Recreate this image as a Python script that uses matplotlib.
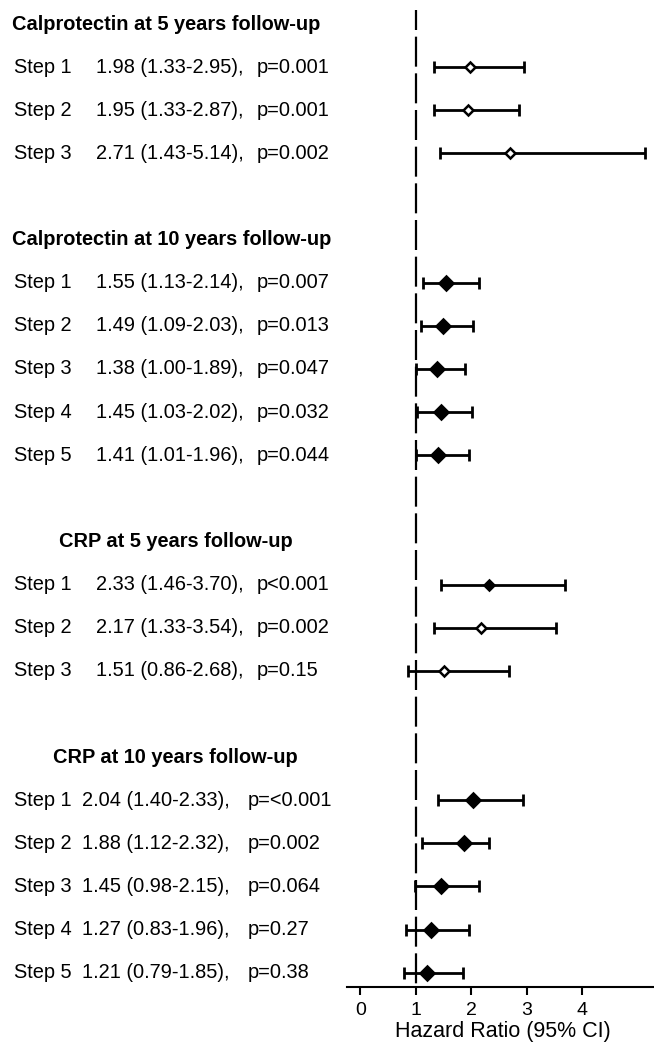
import matplotlib
matplotlib.use("Agg")
import matplotlib.pyplot as plt
import matplotlib.transforms as mtransforms

plt.rcParams['font.family'] = ['Liberation Sans', 'DejaVu Sans']
plt.rcParams['lines.scale_dashes'] = False

# ---------------- data ----------------
section_titles = ["Calprotectin at 5 years follow-up",
                  "Calprotectin at 10 years follow-up",
                  "CRP at 5 years follow-up",
                  "CRP at 10 years follow-up"]

cal5_steps = ["Step 1", "Step 2", "Step 3"]
cal5_hr = [1.98, 1.95, 2.71]
cal5_lo = [1.33, 1.33, 1.43]
cal5_hi = [2.95, 2.87, 5.14]
cal5_text = ["1.98 (1.33-2.95),", "1.95 (1.33-2.87),", "2.71 (1.43-5.14),"]
cal5_p = ["p=0.001", "p=0.001", "p=0.002"]

cal10_steps = ["Step 1", "Step 2", "Step 3", "Step 4", "Step 5"]
cal10_hr = [1.55, 1.49, 1.38, 1.45, 1.41]
cal10_lo = [1.13, 1.09, 1.00, 1.03, 1.01]
cal10_hi = [2.14, 2.03, 1.89, 2.02, 1.96]
cal10_text = ["1.55 (1.13-2.14),", "1.49 (1.09-2.03),", "1.38 (1.00-1.89),",
              "1.45 (1.03-2.02),", "1.41 (1.01-1.96),"]
cal10_p = ["p=0.007", "p=0.013", "p=0.047", "p=0.032", "p=0.044"]

crp5_steps = ["Step 1", "Step 2", "Step 3"]
crp5_hr = [2.33, 2.17, 1.51]
crp5_lo = [1.46, 1.33, 0.86]
crp5_hi = [3.70, 3.54, 2.68]
crp5_text = ["2.33 (1.46-3.70),", "2.17 (1.33-3.54),", "1.51 (0.86-2.68),"]
crp5_p = ["p<0.001", "p=0.002", "p=0.15"]

crp10_steps = ["Step 1", "Step 2", "Step 3", "Step 4", "Step 5"]
crp10_hr = [2.04, 1.88, 1.45, 1.27, 1.21]
crp10_lo = [1.40, 1.12, 0.98, 0.83, 0.79]
crp10_hi = [2.93, 2.32, 2.15, 1.96, 1.85]   # as drawn in the figure
crp10_text = ["2.04 (1.40-2.33),", "1.88 (1.12-2.32),", "1.45 (0.98-2.15),",
              "1.27 (0.83-1.96),", "1.21 (0.79-1.85),"]
crp10_p = ["p=<0.001", "p=0.002", "p=0.064", "p=0.27", "p=0.38"]

x_ticks = [0, 1, 2, 3, 4]
x_label = "Hazard Ratio (95% CI)"

# ---------------- styling / layout ----------------
W, H = 654, 1048
fig = plt.figure(figsize=(W / 100, H / 100), dpi=100)

ax_left_px, ax_bottom_px = 347, 987
ax = fig.add_axes([ax_left_px / W, (H - ax_bottom_px) / H, 1 - ax_left_px / W, ax_bottom_px / H])

row_px, row0_px = 43.12, 24.0
ax.set_ylim((ax_bottom_px - row0_px) / row_px, (0 - row0_px) / row_px)
x0_px, unit_px = 360.3, 55.4
ax.set_xlim((ax_left_px - x0_px) / unit_px, (W - x0_px) / unit_px)

sections = [
    dict(steps=cal5_steps, hr=cal5_hr, lo=cal5_lo, hi=cal5_hi, txt=cal5_text, p=cal5_p,
         title_x=12, val_x=96, p_x=257,
         ms=[4.6, 4.6, 4.6], mfc=['white', 'white', 'white']),
    dict(steps=cal10_steps, hr=cal10_hr, lo=cal10_lo, hi=cal10_hi, txt=cal10_text, p=cal10_p,
         title_x=12, val_x=96, p_x=257,
         ms=[7.0] * 5, mfc=['black'] * 5),
    dict(steps=crp5_steps, hr=crp5_hr, lo=crp5_lo, hi=crp5_hi, txt=crp5_text, p=crp5_p,
         title_x=59, val_x=96, p_x=257,
         ms=[5.6, 5.6, 5.6], mfc=['black', 'white', 'white']),
    dict(steps=crp10_steps, hr=crp10_hr, lo=crp10_lo, hi=crp10_hi, txt=crp10_text, p=crp10_p,
         title_x=53, val_x=82, p_x=248,
         ms=[7.0] * 5, mfc=['black'] * 5),
]

trans = mtransforms.blended_transform_factory(fig.transFigure, ax.transData)
fs = 14.4

row = 0
for title, sec in zip(section_titles, sections):
    fig.text(sec['title_x'] / W, row, title, transform=trans, fontsize=fs,
             fontweight='bold', ha='left', va='center')
    row += 1
    for i, step in enumerate(sec['steps']):
        y = row
        fig.text(14 / W, y, step, transform=trans, fontsize=fs, ha='left', va='center')
        fig.text(sec['val_x'] / W, y, sec['txt'][i], transform=trans, fontsize=fs,
                 ha='left', va='center')
        fig.text(sec['p_x'] / W, y, sec['p'][i], transform=trans, fontsize=fs,
                 ha='left', va='center')
        hr = sec['hr'][i]
        ax.errorbar([hr], [y], xerr=[[hr - sec['lo'][i]], [sec['hi'][i] - hr]],
                    fmt='none', ecolor='black', elinewidth=2.0, capsize=4.5,
                    capthick=2.0, zorder=3)
        ax.plot([hr], [y], marker='D', ms=sec['ms'][i], mfc=sec['mfc'][i],
                mec='black', mew=1.8, ls='none', zorder=4)
        row += 1
    row += 1

# reference line at HR = 1 (dashed)
y_top = (10 - row0_px) / row_px
ax.plot([1, 1], [y_top, ax.get_ylim()[0]], color='black', lw=1.6,
        linestyle=(7.2, (21.6, 4.8)), zorder=2, solid_capstyle='butt')

for s in ['left', 'right', 'top']:
    ax.spines[s].set_visible(False)
ax.spines['bottom'].set_linewidth(1.5)
ax.set_yticks([])
ax.set_xticks(x_ticks)
ax.set_xticklabels([str(t) for t in x_ticks])
ax.tick_params(axis='x', direction='out', length=6, width=1.5, labelsize=14, pad=5)
ax.patch.set_alpha(0)

fig.text(503 / W, 1 - 1032 / H, x_label, fontsize=15.5, ha='center', va='center')

fig.savefig("out.png", dpi=100)
